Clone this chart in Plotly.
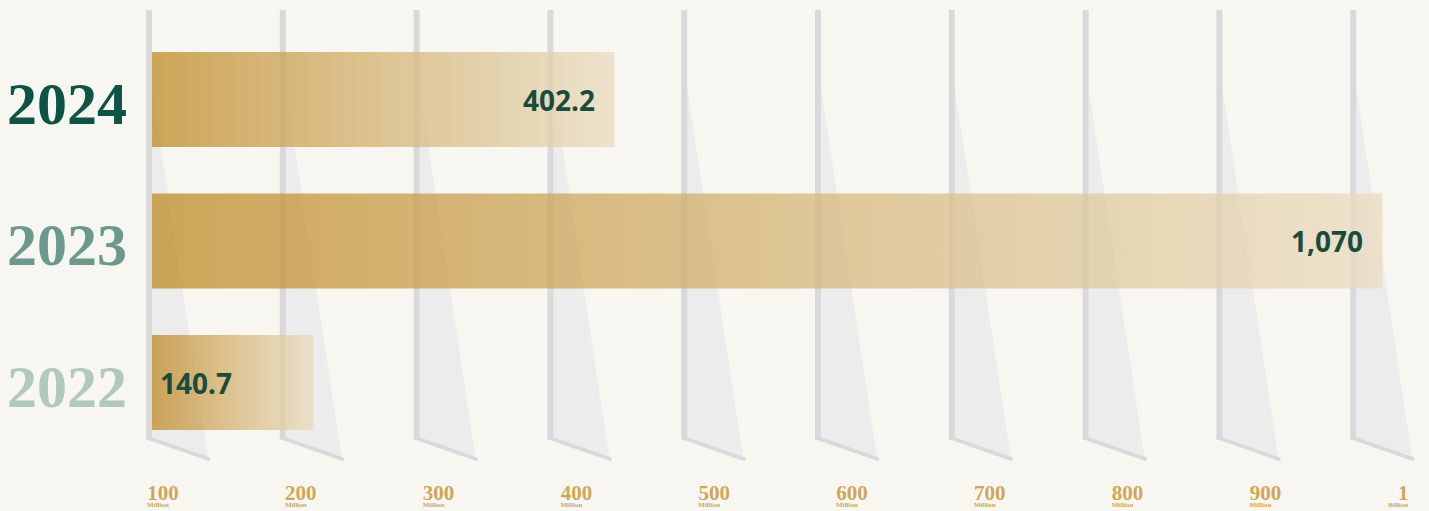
import plotly.graph_objects as go

# ---------------- data ----------------
years = ["2022", "2023", "2024"]            # bottom -> top
values = [140.7, 1070.0, 402.2]             # millions
value_labels = ["140.7", "1,070", "402.2"]
year_colors = ["#b0c8be", "#6b998e", "#0d5446"]
tick_vals = [100, 200, 300, 400, 500, 600, 700, 800, 900, 1000]
tick_text = ["100", "200", "300", "400", "500", "600", "700", "800", "900", "1"]
unit_text = ["Million"] * 9 + ["Billion"]

# ---------------- geometry / style ----------------
W, H = 1429, 511
ML, MR, MT, MB = 138, 0, 0, 33
PW, PH = W - ML - MR, H - MT - MB
BG = "#f7f6f0"
GOLD = "#d1a65a"
DARK = "#1a4b3d"

BAR_SCALE = 1.15        # px per million
BAR_ZERO_PX = 152       # absolute px of bar start
x_lo = -(BAR_ZERO_PX - ML) / BAR_SCALE
x_hi = x_lo + PW / BAR_SCALE

TICK_SCALE = 1.378      # px per million for the label axis
TICK_100_PX = 163
x2_lo = 100 - (TICK_100_PX - ML) / TICK_SCALE
x2_hi = x2_lo + PW / TICK_SCALE

ROW_PX = 141.5
ROW0_PX = 382.5
y_lo = -(MT + PH - ROW0_PX) / ROW_PX
y_hi = y_lo + PH / ROW_PX
HALF = 95 / 2 / ROW_PX


def pxx(p):
    return (p - ML) / PW


def pxy(p):
    return (MT + PH - p) / PH


fig = go.Figure()

# decorative poles (one per tick)
POLE0, POLE_STEP = 146, 133.8
shapes = []
for i, _ in enumerate(tick_vals):
    xl = POLE0 + i * POLE_STEP
    xr = xl + 6
    shapes.append(dict(
        type="path", xref="paper", yref="paper", layer="below",
        path=f"M {pxx(xr)} {pxy(88)} L {pxx(xr)} {pxy(438)} L {pxx(xr + 56)} {pxy(458)} Z",
        fillcolor="#ececed", line=dict(width=0)))
    shapes.append(dict(
        type="rect", xref="paper", yref="paper", layer="below",
        x0=pxx(xl), x1=pxx(xr), y0=pxy(440), y1=pxy(10),
        fillcolor="#d9d9dc", line=dict(width=0)))
    shapes.append(dict(
        type="line", xref="paper", yref="paper", layer="below",
        x0=pxx(xl + 1), y0=pxy(437.5), x1=pxx(xl + 64), y1=pxy(459.5),
        line=dict(color="#d9d9dc", width=3.5)))

# gradient bars
for i, (yr, v) in enumerate(zip(years, values)):
    fig.add_trace(go.Scatter(
        x=[0, v, v, 0, 0],
        y=[i - HALF, i - HALF, i + HALF, i + HALF, i - HALF],
        mode="lines", fill="toself", line=dict(width=0),
        fillgradient=dict(type="horizontal",
                          colorscale=[[0, "rgb(191,138,38)"], [1, "rgb(233,220,192)"]]),
        opacity=0.75, hoverinfo="skip", showlegend=False, xaxis="x", yaxis="y"))

# value labels
annotations = []
for i, (v, lab) in enumerate(zip(values, value_labels)):
    if v >= 300:
        ax, anchor, shift = v, "right", -18
    else:
        ax, anchor, shift = 0, "left", 6
    annotations.append(dict(
        x=ax, y=i, xref="x", yref="y", text=f"<b>{lab}</b>", showarrow=False,
        xanchor=anchor, xshift=shift, yanchor="middle",
        font=dict(family="Noto Sans", size=28, color=DARK)))

# invisible traces to activate label axes
fig.add_trace(go.Scatter(x=tick_vals, y=[y_lo] * len(tick_vals), mode="markers",
                         marker=dict(opacity=0), hoverinfo="skip", showlegend=False,
                         xaxis="x2", yaxis="y"))
fig.add_trace(go.Scatter(x=tick_vals, y=[y_lo] * len(tick_vals), mode="markers",
                         marker=dict(opacity=0), hoverinfo="skip", showlegend=False,
                         xaxis="x3", yaxis="y"))

y_ticktext = [f"<span style='color:{c}'><b>{yr}</b></span>"
              for yr, c in zip(years, year_colors)]

fig.update_layout(
    width=W, height=H,
    margin=dict(l=ML, r=MR, t=MT, b=MB, pad=0),
    paper_bgcolor=BG, plot_bgcolor=BG,
    showlegend=False,
    shapes=shapes,
    annotations=annotations,
    xaxis=dict(range=[x_lo, x_hi], visible=False, fixedrange=True),
    xaxis2=dict(range=[x2_lo, x2_hi], overlaying="x", anchor="y", side="bottom",
                tickvals=tick_vals, ticktext=[f"<b>{t}</b>" for t in tick_text],
                tickfont=dict(family="Liberation Serif", size=21, color=GOLD),
                showgrid=False, zeroline=False, showline=False, ticks=""),
    xaxis3=dict(range=[x2_lo, x2_hi], overlaying="x", anchor="y", side="bottom",
                tickvals=tick_vals, ticktext=[f"<b>{t}</b>" for t in unit_text],
                tickfont=dict(family="Liberation Serif", size=7, color=GOLD),
                ticklabelstandoff=21, ticklabelshift=-5,
                showgrid=False, zeroline=False, showline=False, ticks=""),
    yaxis=dict(range=[y_lo, y_hi], tickvals=[0, 1, 2], ticktext=y_ticktext,
               tickfont=dict(family="Liberation Serif", size=60),
               ticklabelstandoff=10, ticklabelshift=3,
               showgrid=False, zeroline=False, showline=False, ticks=""),
)

fig.write_html(
    "out.html",
    config={"displayModeBar": False},
    post_script="document.body.style.margin='0px';document.body.style.background='%s';" % BG,
)
